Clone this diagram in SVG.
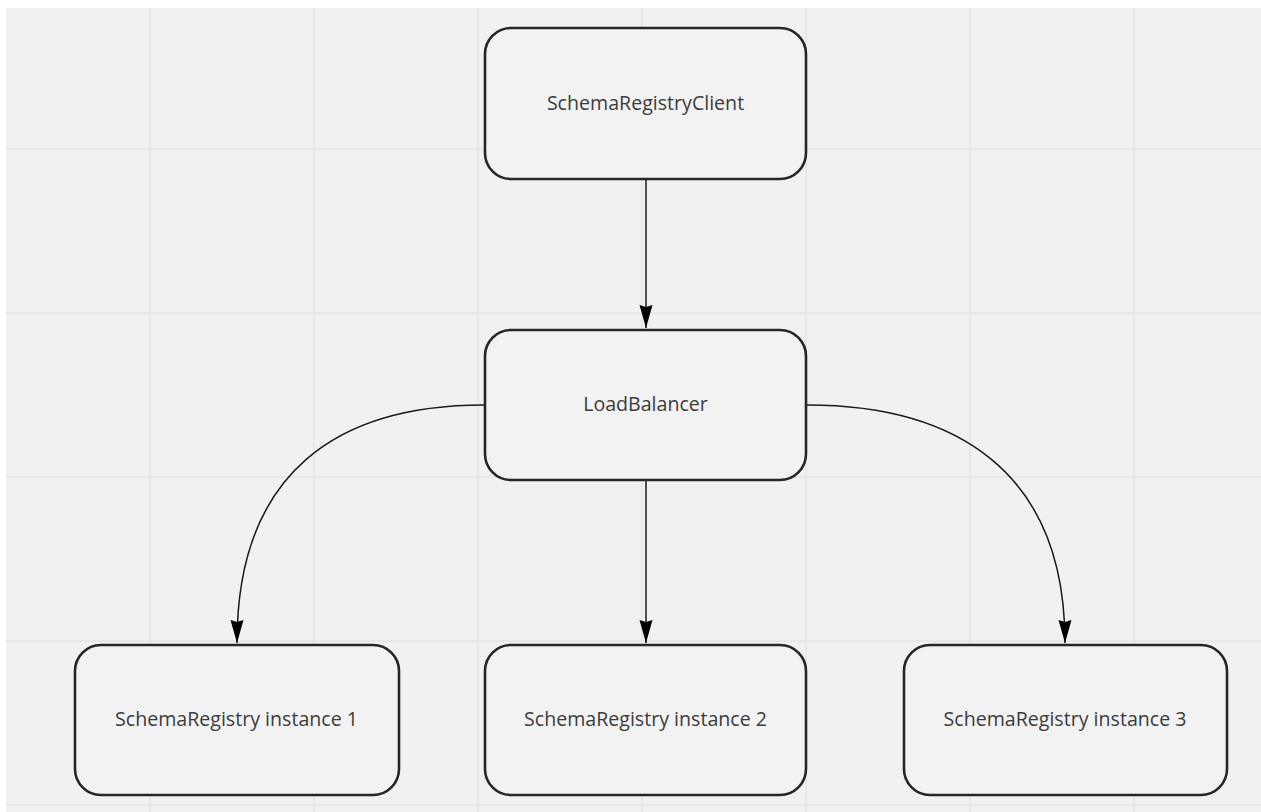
<svg xmlns="http://www.w3.org/2000/svg" width="1261" height="812" viewBox="0 0 1261 812">
  <style>
    .grid line { stroke: #e4e4e4; stroke-width: 1.5; }
    .node rect { fill: #f2f2f2; stroke: #262626; stroke-width: 2.6; }
    .node text { font-family: "Open Sans", "Liberation Sans", sans-serif; font-size: 19.6px; fill: #3c3c3c; text-anchor: middle; dominant-baseline: central; }
    .edge { fill: none; stroke: #1a1a1a; stroke-width: 1.5; marker-end: url(#arrow); }
  </style>
  <defs>
    <marker id="arrow" markerUnits="userSpaceOnUse" markerWidth="26" markerHeight="16" viewBox="-1 -8 26 16" refX="23" refY="0" orient="auto">
      <path d="M0,-6.5 L23,0 L0,6.5 L2,0 Z" fill="#000"/>
    </marker>
  </defs>
  <rect x="0" y="0" width="1261" height="812" fill="#ffffff"/>
  <rect x="6" y="8" width="1255" height="804" fill="#f1f1f1"/>
  <g class="grid">
    <line x1="150" y1="8" x2="150" y2="812"/>
    <line x1="314" y1="8" x2="314" y2="812"/>
    <line x1="478" y1="8" x2="478" y2="812"/>
    <line x1="642" y1="8" x2="642" y2="812"/>
    <line x1="806" y1="8" x2="806" y2="812"/>
    <line x1="970" y1="8" x2="970" y2="812"/>
    <line x1="1134" y1="8" x2="1134" y2="812"/>
    <line x1="6" y1="149" x2="1261" y2="149"/>
    <line x1="6" y1="313" x2="1261" y2="313"/>
    <line x1="6" y1="477" x2="1261" y2="477"/>
    <line x1="6" y1="641" x2="1261" y2="641"/>
    <line x1="6" y1="805" x2="1261" y2="805"/>
  </g>
  <g id="connectors">
    <path class="edge" d="M646,180 L646,328"/>
    <path class="edge" d="M646,481 L646,643"/>
    <path class="edge" d="M484,405 C340,405 237,470 237,643"/>
    <path class="edge" d="M807,405 C954,405 1065,470 1065,643"/>
  </g>
  <g id="node-client" class="node">
    <rect x="485" y="28" width="321" height="151" rx="26"/>
    <text x="645.5" y="102">SchemaRegistryClient</text>
  </g>
  <g id="node-lb" class="node">
    <rect x="485" y="330" width="321" height="150" rx="26"/>
    <text x="645.5" y="403">LoadBalancer</text>
  </g>
  <g id="node-sr1" class="node">
    <rect x="75" y="645" width="324" height="150" rx="26"/>
    <text x="236.5" y="718">SchemaRegistry instance 1</text>
  </g>
  <g id="node-sr2" class="node">
    <rect x="485" y="645" width="321" height="150" rx="26"/>
    <text x="645.5" y="718">SchemaRegistry instance 2</text>
  </g>
  <g id="node-sr3" class="node">
    <rect x="904" y="645" width="323" height="150" rx="26"/>
    <text x="1065" y="718">SchemaRegistry instance 3</text>
  </g>
</svg>
